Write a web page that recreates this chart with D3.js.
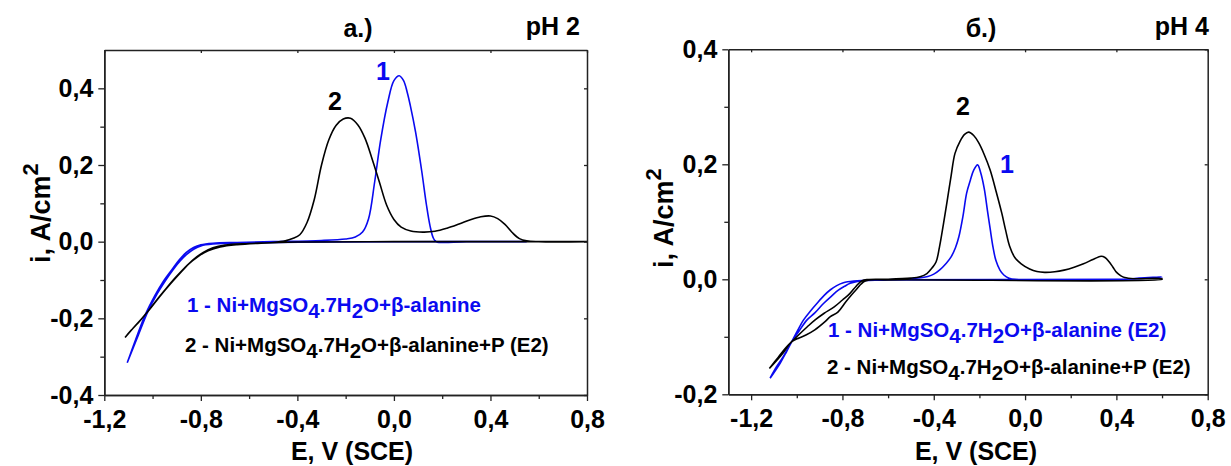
<!DOCTYPE html>
<html>
<head>
<meta charset="utf-8">
<script src="https://cdn.jsdelivr.net/npm/d3@7"></script>
<style>
  body { margin: 0; background: #fff; }
  svg text { font-family: "Liberation Sans", Arial, sans-serif; font-weight: bold; }
</style>
</head>
<body>
<div id="vis"></div>
<script>
// ---- data: [E (V vs SCE), i (A/cm2)] ----
// panel a.) pH 2
var a1 = [[-1.105,-0.316],[-1.07,-0.255],[-1.03,-0.19],[-0.99,-0.14],[-0.955,-0.103],[-0.92,-0.073],
  [-0.89,-0.048],[-0.86,-0.028],[-0.83,-0.015],[-0.8,-0.008],[-0.75,-0.004],[-0.65,-0.002],[-0.5,0.0],
  [-0.3,0.003],[-0.2,0.007],[-0.16,0.012],[-0.13,0.025],[-0.105,0.06],[-0.08,0.155],[-0.055,0.265],
  [-0.025,0.365],[0.0,0.42],[0.022,0.433],[0.04,0.42],[0.055,0.39],[0.068,0.355],[0.09,0.285],
  [0.115,0.185],[0.135,0.095],[0.15,0.04],[0.163,0.01],[0.175,0.0],[0.3,0.0],[0.55,0.0],
  [0.3,0.0],[-0.3,-0.001],[-0.6,-0.003],[-0.75,-0.006],[-0.8,-0.011],[-0.83,-0.02],[-0.86,-0.034],
  [-0.885,-0.05],[-0.915,-0.073],[-0.945,-0.1],[-0.98,-0.135],[-1.02,-0.183],[-1.06,-0.245],[-1.105,-0.316]];
var a2 = [[-1.114,-0.25],[-1.09,-0.232],[-1.06,-0.212],[-1.03,-0.19],[-0.99,-0.158],[-0.95,-0.127],
  [-0.91,-0.097],[-0.87,-0.07],[-0.83,-0.046],[-0.79,-0.028],[-0.75,-0.016],[-0.7,-0.009],[-0.6,-0.005],
  [-0.5,-0.002],[-0.45,0.002],[-0.42,0.008],[-0.39,0.018],[-0.36,0.05],[-0.33,0.11],[-0.3,0.2],
  [-0.27,0.265],[-0.24,0.303],[-0.21,0.32],[-0.18,0.322],[-0.15,0.305],[-0.12,0.27],[-0.09,0.215],
  [-0.06,0.155],[-0.03,0.095],[0.0,0.058],[0.03,0.038],[0.07,0.028],[0.12,0.025],[0.17,0.027],
  [0.22,0.035],[0.27,0.046],[0.32,0.058],[0.36,0.065],[0.4,0.067],[0.43,0.06],[0.46,0.045],
  [0.49,0.024],[0.52,0.008],[0.55,0.002],[0.6,0.0],[0.8,0.0],
  [0.6,0.0],[0.0,0.0],[-0.4,-0.001],[-0.55,-0.004],[-0.65,-0.008],[-0.72,-0.014],[-0.77,-0.024],
  [-0.81,-0.038],[-0.85,-0.058],[-0.89,-0.085],[-0.93,-0.113],[-0.97,-0.143],[-1.01,-0.175],
  [-1.04,-0.197],[-1.07,-0.218],[-1.114,-0.25]];

// panel б.) pH 4
var b1 = [[-1.117,-0.172],[-1.073,-0.146],[-1.045,-0.126],[-1.022,-0.1085],[-0.995,-0.088],[-0.971,-0.071],
  [-0.94,-0.055],[-0.912,-0.042],[-0.88,-0.028],[-0.854,-0.0186],[-0.825,-0.011],[-0.796,-0.006],
  [-0.75,-0.003],[-0.708,-0.002],[-0.6,-0.001],[-0.5,0.001],[-0.45,0.003],[-0.426,0.005],[-0.4,0.009],
  [-0.375,0.016],[-0.345,0.028],[-0.324,0.039],[-0.305,0.055],[-0.29,0.074],[-0.272,0.11],
  [-0.256,0.15],[-0.24,0.172],[-0.225,0.19],[-0.208,0.199],[-0.195,0.186],[-0.179,0.158],
  [-0.165,0.12],[-0.153,0.088],[-0.14,0.055],[-0.128,0.033],[-0.11,0.016],[-0.093,0.0075],
  [-0.07,0.002],[-0.04,0.0],[0.45,0.0],[0.5,0.002],[0.6,0.004],
  [0.5,0.001],[0.4,0.0],[-0.6,-0.001],[-0.708,-0.002],[-0.766,-0.007],[-0.79,-0.012],[-0.818,-0.019],
  [-0.85,-0.03],[-0.883,-0.042],[-0.92,-0.058],[-0.956,-0.071],[-0.99,-0.09],[-1.022,-0.1085],
  [-1.06,-0.135],[-1.09,-0.153],[-1.117,-0.172]];
var b2 = [[-1.12,-0.155],[-1.08,-0.135],[-1.05,-0.12],[-1.022,-0.1085],[-0.99,-0.096],[-0.955,-0.083],
  [-0.921,-0.071],[-0.88,-0.059],[-0.836,-0.048],[-0.8,-0.036],[-0.768,-0.025],[-0.74,-0.012],
  [-0.716,-0.003],[-0.69,-0.0005],[-0.6,0.0],[-0.5,0.002],[-0.46,0.0045],[-0.43,0.01],[-0.409,0.019],
  [-0.39,0.03],[-0.375,0.056],[-0.358,0.095],[-0.341,0.137],[-0.324,0.18],[-0.307,0.219],
  [-0.285,0.24],[-0.265,0.252],[-0.247,0.256],[-0.225,0.25],[-0.204,0.238],[-0.18,0.218],
  [-0.153,0.19],[-0.125,0.15],[-0.102,0.115],[-0.085,0.085],[-0.068,0.058],[-0.045,0.038],
  [-0.017,0.027],[0.02,0.018],[0.052,0.0135],[0.086,0.012],[0.13,0.013],[0.171,0.016],[0.215,0.021],
  [0.256,0.027],[0.3,0.035],[0.333,0.04],[0.35,0.038],[0.367,0.031],[0.385,0.021],[0.401,0.012],
  [0.42,0.006],[0.436,0.003],[0.478,0.001],[0.6,0.001],
  [0.6,0.0],[-0.6,-0.001],[-0.7,-0.003],[-0.742,-0.019],[-0.785,-0.039],[-0.82,-0.057],
  [-0.853,-0.065],[-0.88,-0.075],[-0.921,-0.088],[-0.96,-0.097],[-0.99,-0.102],[-1.022,-0.1085],
  [-1.06,-0.128],[-1.09,-0.142],[-1.12,-0.155]];

var xTicks = [-1.2, -0.8, -0.4, 0, 0.4, 0.8];
var xMinor = [-1.0, -0.6, -0.2, 0.2, 0.6];
var yTicksA = [-0.4, -0.2, 0, 0.2, 0.4];
var yMinorA = [-0.3, -0.1, 0.1, 0.3];
var yTicksB = [-0.2, 0, 0.2, 0.4];
var yMinorB = [-0.1, 0.1, 0.3];

var legendA = ['1 - Ni+MgSO|4|.7H|2|O+β-alanine', '2 - Ni+MgSO|4|.7H|2|O+β-alanine+P (E2)'];
var legendB = ['1 - Ni+MgSO|4|.7H|2|O+β-alanine (E2)', '2 - Ni+MgSO|4|.7H|2|O+β-alanine+P (E2)'];

var blue = '#0a0af0', black = '#000';

var svg = d3.select('#vis').append('svg')
    .attr('width', 1231)
    .attr('height', 466);

var fmt = function(d) { return d3.format('.1f')(d).replace('.', ',').replace('\u2212', '-'); };

var line = function(x, y) {
    return d3.line()
        .x(function(d) { return x(d[0]); })
        .y(function(d) { return y(d[1]); })
        .curve(d3.curveCatmullRom.alpha(0.5));
};

function drawPanel(p) {
    var x = d3.scaleLinear().domain(p.xDom).range([p.left, p.right]);
    var y = d3.scaleLinear().domain(p.yDom).range([p.bottom, p.top]);
    var g = svg.append('g');

    // curves
    var ln = line(x, y);
    g.append('path').datum(p.s1).attr('d', ln)
        .attr('fill', 'none').attr('stroke', blue).attr('stroke-width', 1.6);
    g.append('path').datum(p.s2).attr('d', ln)
        .attr('fill', 'none').attr('stroke', black).attr('stroke-width', 1.6);

    // mirror axes (top, right) with small inward ticks
    g.append('g').attr('transform', 'translate(0,' + p.top + ')')
        .call(d3.axisBottom(x).tickValues(xTicks).tickSize(3).tickSizeOuter(0).tickFormat(''));
    g.append('g').attr('transform', 'translate(' + p.right + ',0)')
        .call(d3.axisLeft(y).tickValues(p.yTicks).tickSize(3).tickSizeOuter(0).tickFormat(''));

    // minor ticks
    g.append('g').attr('transform', 'translate(0,' + p.bottom + ')')
        .call(d3.axisBottom(x).tickValues(xMinor).tickSize(4).tickSizeOuter(0).tickFormat(''));
    g.append('g').attr('transform', 'translate(' + p.left + ',0)')
        .call(d3.axisLeft(y).tickValues(p.yMinor).tickSize(4).tickSizeOuter(0).tickFormat(''));

    // major axes
    var xa = g.append('g').attr('transform', 'translate(0,' + p.bottom + ')')
        .call(d3.axisBottom(x).tickValues(xTicks).tickSize(6).tickSizeOuter(0).tickFormat(fmt));
    xa.selectAll('text').attr('y', 33).attr('dy', 0);
    var ya = g.append('g').attr('transform', 'translate(' + p.left + ',0)')
        .call(d3.axisLeft(y).tickValues(p.yTicks).tickSize(6).tickSizeOuter(0).tickPadding(5).tickFormat(fmt));

    g.selectAll('.domain').attr('stroke', '#222').attr('stroke-width', 1.5);
    g.selectAll('.tick line').attr('stroke', '#222').attr('stroke-width', 1.3);
    g.selectAll('.tick text').attr('font-size', 25).attr('fill', '#000')
        .attr('font-family', '"Liberation Sans", Arial, sans-serif').attr('font-weight', 'bold');

    // axis titles
    g.append('text').attr('x', p.xTitleX).attr('y', 460).attr('text-anchor', 'middle')
        .attr('font-size', 25).text('E, V (SCE)');
    var yt = g.append('text')
        .attr('transform', 'translate(' + p.yTitleX + ',' + p.yTitleY + ') rotate(-90)')
        .attr('font-size', 27);
    yt.append('tspan').text('i, A/cm');
    yt.append('tspan').attr('font-size', 22).attr('dy', -12).text('2');

    // panel titles
    g.append('text').attr('x', p.titleX).attr('y', 37).attr('text-anchor', 'middle')
        .attr('font-size', 25).text(p.title);
    g.append('text').attr('x', p.phX).attr('y', 35).attr('text-anchor', 'end')
        .attr('font-size', 25).text(p.ph);

    // curve numbers
    g.append('text').attr('x', p.n1[0]).attr('y', p.n1[1]).attr('text-anchor', 'middle')
        .attr('font-size', 25).attr('fill', blue).text('1');
    g.append('text').attr('x', p.n2[0]).attr('y', p.n2[1]).attr('text-anchor', 'middle')
        .attr('font-size', 25).attr('fill', black).text('2');

    // legend
    p.legend.forEach(function(s, k) {
        var t = g.append('text').attr('x', p.legPos[k][0]).attr('y', p.legPos[k][1])
            .attr('font-size', 20.5).attr('fill', k === 0 ? blue : black);
        s.split('|').forEach(function(part, j) {
            var ts = t.append('tspan').text(part);
            if (j > 0) ts.attr('dy', j % 2 === 1 ? 6 : -6);
        });
    });
}

drawPanel({
    left: 104.3, right: 587, top: 50, bottom: 395,
    xDom: [-1.2, 0.8], yDom: [-0.4, 0.5],
    yTicks: yTicksA, yMinor: yMinorA,
    s1: a1, s2: a2,
    xTitleX: 352, yTitleX: 50, yTitleY: 263,
    title: 'а.)', titleX: 358, ph: 'pH 2', phX: 580,
    n1: [383, 80], n2: [335, 110],
    legend: legendA, legPos: [[187, 312], [185, 352]]
});

drawPanel({
    left: 728.3, right: 1207.7, top: 49.3, bottom: 394.3,
    xDom: [-1.3, 0.8], yDom: [-0.2, 0.4],
    yTicks: yTicksB, yMinor: yMinorB,
    s1: b1, s2: b2,
    xTitleX: 976, yTitleX: 673, yTitleY: 268,
    title: 'б.)', titleX: 981, ph: 'pH 4', phX: 1209,
    n1: [1007, 173], n2: [963, 115],
    legend: legendB, legPos: [[828, 337], [827, 374]]
});
</script>
</body>
</html>
